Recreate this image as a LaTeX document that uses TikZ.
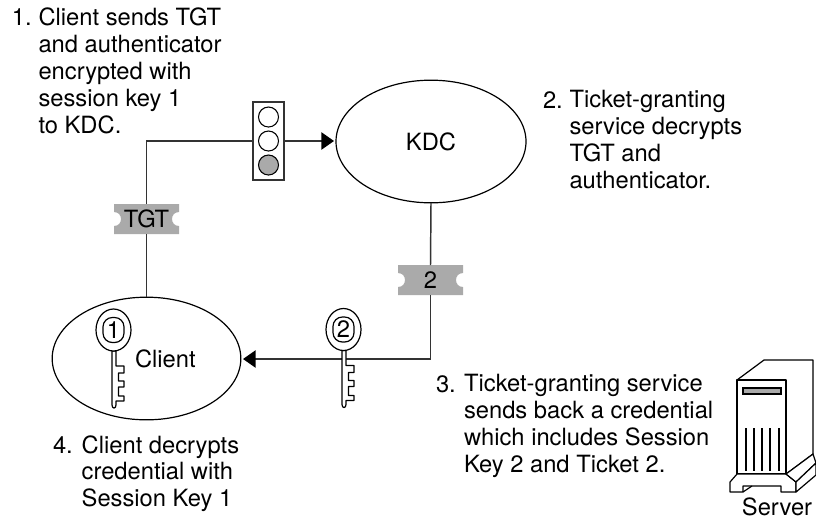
\documentclass[tikz,border=0pt]{standalone}
\usepackage{fontspec}
\setmainfont{TeX Gyre Heros}
\usetikzlibrary{shapes.geometric,arrows.meta}
\definecolor{tick}{HTML}{AAAAAA}
\definecolor{wire}{HTML}{333333}
\tikzset{
  x=0.75pt,y=-0.75pt,
  every node/.style={font=\fontsize{17.8pt}{20.25pt}\selectfont,inner sep=0pt,outer sep=0pt,text=black},
  oval/.style={draw=black,line width=0.9pt,ellipse,fill=white},
  wireline/.style={draw=wire,line width=1.1pt},
  arrowline/.style={wireline,-{Triangle[length=9.5pt,width=13pt,fill=black,color=black]}},
  note/.style={anchor=north west,align=left},
  numlabel/.style={anchor=base west},
  tickettext/.style={minimum width=48.75pt,minimum height=22.5pt},
  outline/.style={draw=black,line width=0.9pt,fill=white,line join=round},
  keyicon/.pic={
    \path[outline] (-1.5,21) -- (-1.5,75) .. controls (-1.5,79) and (2.5,79) .. (2.5,75)
      -- (2.5,71) -- (10.5,71) -- (10.5,66) -- (5,66) -- (5,57) -- (10.5,57) -- (10.5,51)
      -- (5,51) -- (5,43) -- (10.5,43) -- (10.5,36) -- (2.5,36) -- (2.5,21) -- cycle;
    \path[outline] (0,0) ellipse [x radius=17.5,y radius=21];
    \path[draw=black,line width=0.9pt,rounded corners=7pt] (-10.5,-12.5) rectangle (10.5,12.5);
    \node at (0,0) {#1};
  }
}
\newcommand{\ticketbg}[2]{%
  \fill[tick] (#1-32.5,#2-15) -- (#1+32.5,#2-15) -- (#1+32.5,#2-7)
    .. controls (#1+23.2,#2-7) and (#1+23.2,#2+7) .. (#1+32.5,#2+7)
    -- (#1+32.5,#2+15) -- (#1-32.5,#2+15) -- (#1-32.5,#2+7)
    .. controls (#1-23.2,#2+7) and (#1-23.2,#2-7) .. (#1-32.5,#2-7) -- cycle;}
\begin{document}
\begin{tikzpicture}
\useasboundingbox (0,0) rectangle (816,519);
% ellipses
\node[oval,minimum width=142.5pt,minimum height=92pt] (kdc) at (431,141.5) {};
\node at (431,141.5) {KDC};
\node[oval,minimum width=141.5pt,minimum height=92pt] (client) at (146.5,358.5) {};
\node[anchor=base west] (clientlabel) at (135,367) {Client};
% tickets
\ticketbg{146.5}{219}
\node[tickettext] (tgt) at (146.5,219) {TGT};
\ticketbg{430.5}{280}
\node[tickettext] (tick2) at (430.5,280) {2};
% traffic light
\node[draw=wire,line width=0.9pt,fill=white,minimum width=23.25pt,minimum height=58.5pt] (light) at (268.5,141) {};
\path[draw=black,line width=0.8pt,fill=white] (268.5,117) circle (10);
\path[draw=black,line width=0.8pt,fill=white] (268.5,141) circle (10);
\path[draw=black,line width=0.8pt,fill=tick] (268.5,165) circle (10);
% connectors
\coordinate (corner) at (146.5,141);
\coordinate (elbow) at (430.5,359);
\coordinate (cliententry) at (243,359);
\coordinate (kdcentry) at (334,141);
\draw[wireline] (client.north) -- (tgt.south);
\draw[wireline] (tgt.north) -- (corner) -- (light.west);
\draw[arrowline] (light.east) -- (kdcentry);
\draw[wireline] (kdc.south) -- (tick2.north);
\draw[arrowline] (tick2.south) -- (elbow) -- (cliententry);
% keys
\pic at (113.5,330) {keyicon=1};
\pic at (343.5,329.5) {keyicon=2};
% notes
\node[numlabel] (n1) at (12,25) {1.};
\node[note] (t1) at (38.5,7.5) {Client sends TGT\\and authenticator\\encrypted with\\session key 1\\to KDC.};
\node[numlabel] (n2) at (543,108) {2.};
\node[note] (t2) at (569.5,90.5) {Ticket-granting\\service decrypts\\TGT and\\authenticator.};
\node[numlabel] (n3) at (436,392) {3.};
\node[note] (t3) at (464,374.5) {Ticket-granting service\\sends back a credential\\which includes Session\\Key 2 and Ticket 2.};
\node[numlabel] (n4) at (53,453) {4.};
\node[note,font=\fontsize{17.8pt}{19.9pt}\selectfont] (t4) at (81.7,435.5) {Client decrypts\\credential with\\Session Key 1};
% server
\path[outline] (737,380) -- (764,360) -- (813,360) -- (813,454) -- (786,474) -- cycle;
\path[outline] (737,380) rectangle (786,474);
\path[outline] (737,474) -- (730,482) -- (730,492) -- (743,492)
  -- (743,486) -- (781,486) -- (781,492) -- (796,492) -- (796,482) -- (786,474) -- cycle;
\path[outline] (796,482) -- (816,463) -- (813,454) -- (786,474) -- cycle;
\path[outline] (796,482) -- (816,463) -- (816,475) -- (796,492) -- cycle;
\draw[black,line width=0.9pt] (743,492) -- (752,486);
\path[draw=black,line width=0.9pt,fill=tick] (743,388) rectangle (781,394);
\foreach \vx in {746,754,762,770,779} \draw[black,line width=0.8pt] (\vx,428) -- (\vx,471);
\node[anchor=base] (serverlabel) at (777,515) {Server};
\end{tikzpicture}
\end{document}
